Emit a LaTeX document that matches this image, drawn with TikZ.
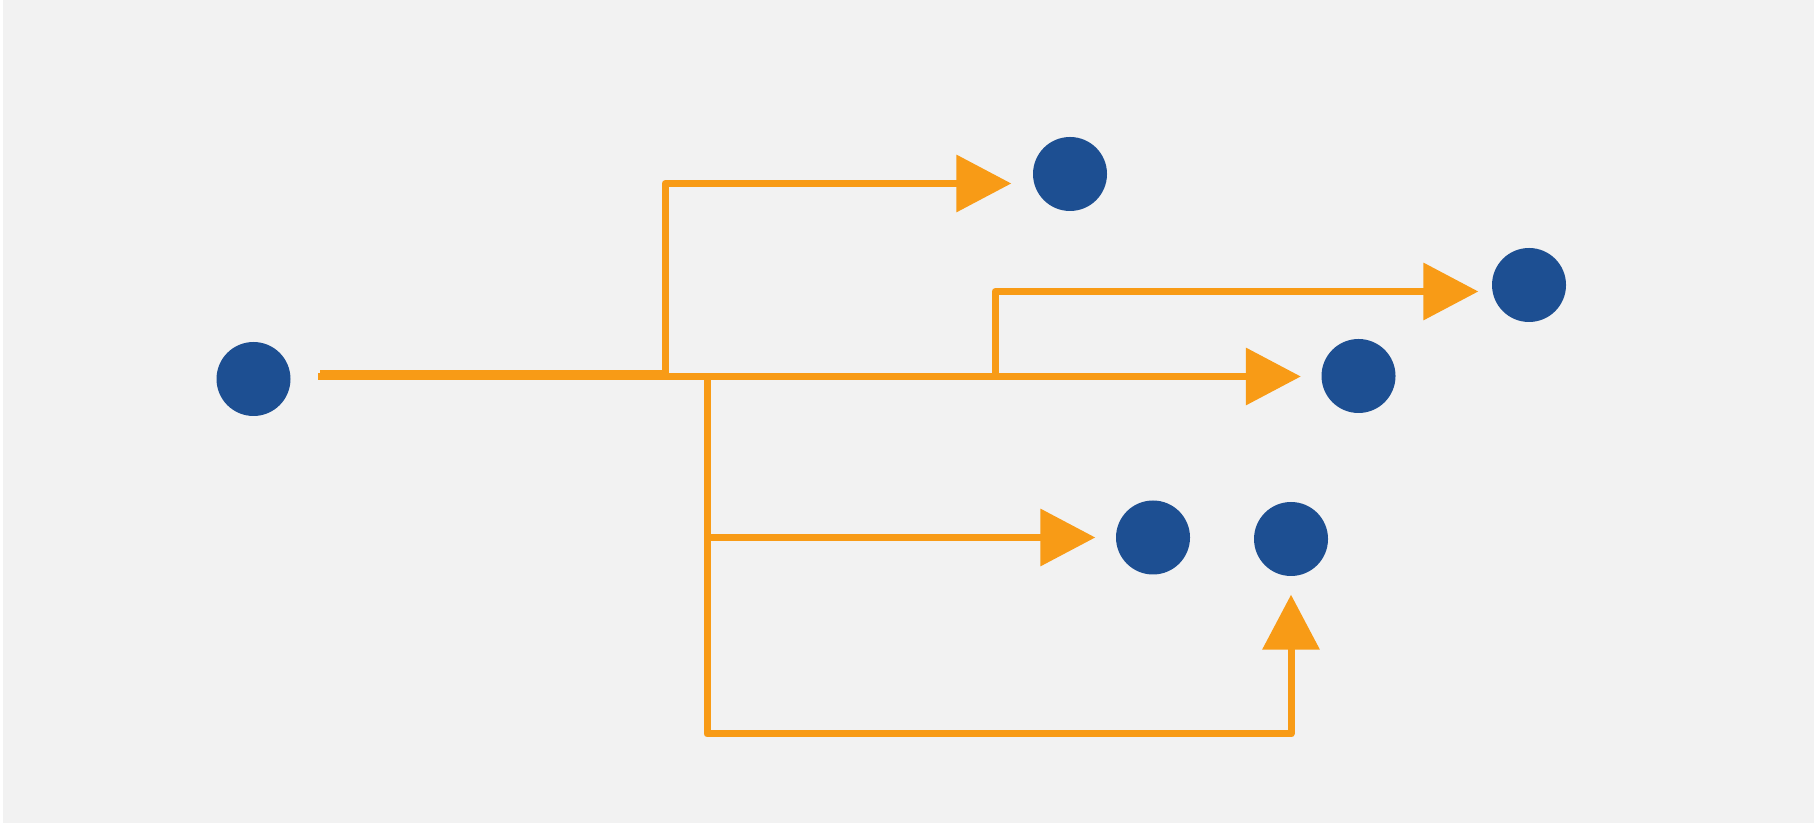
\documentclass[tikz,border=0pt]{standalone}
\usepackage{tikz}
\usetikzlibrary{calc,arrows.meta}
\definecolor{nodeBlue}{HTML}{1D4F92}
\definecolor{flowOrange}{HTML}{F89B16}
\definecolor{paperGray}{HTML}{F2F2F2}
\tikzset{
   dot node/.style={circle,fill=nodeBlue,draw=none,inner sep=0pt,minimum size=0.74cm},
   flow/.style={draw=flowOrange,line width=0.07cm,line join=round,
                -{Triangle[length=5.5mm,width=5.6mm]}}
}
\begin{document}
\begin{tikzpicture}
\useasboundingbox (0,0) rectangle (18.14,-8.24);
\fill[white] (0,0) rectangle (18.14,-8.24);
\fill[paperGray] (0.03,0) rectangle (18.14,-8.23);

\node[dot node] (source) at (2.535,-3.79) {};
\node[dot node] (topTarget) at (10.70,-1.74) {};
\node[dot node] (farTarget) at (15.29,-2.85) {};
\node[dot node] (midTarget) at (13.585,-3.76) {};
\node[dot node] (lowTarget) at (11.53,-5.375) {};
\node[dot node] (bottomTarget) at (12.91,-5.39) {};

\coordinate (out) at (3.18,-3.765);
\coordinate (outUp) at (3.20,-3.735);

% upper branches
\draw[flow,shorten >=0.21cm] (outUp) -| (6.65,-1.835) -- (topTarget.west |- 0,-1.835);
\draw[flow,shorten >=0.13cm] (out) -| (9.95,-2.915) -- (farTarget.west |- 0,-2.915);

% straight on
\draw[flow,shorten >=0.20cm] (out) -- (midTarget.west |- 0,-3.765);

% lower branches
\draw[flow,shorten >=0.20cm] (out) -| (7.07,-5.375) -- (lowTarget.west |- 0,-5.375);
\draw[flow,shorten >=0.18cm] (out) -| (7.07,-7.34) -| (bottomTarget.south);
\end{tikzpicture}
\end{document}
